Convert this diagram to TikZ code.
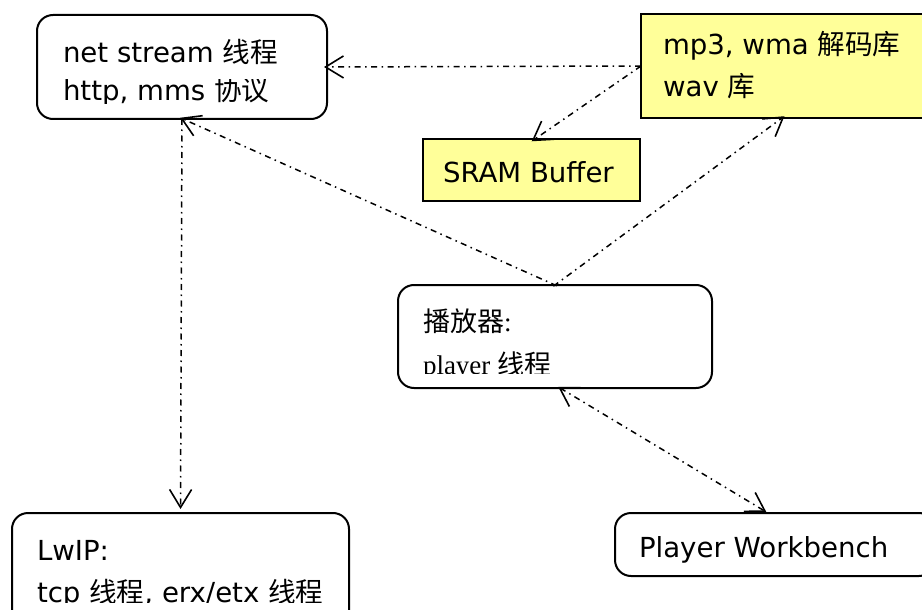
\documentclass[tikz,border=0pt]{standalone}
\usepackage{fontspec}
\setmainfont{DejaVu Sans}
\newfontfamily\cjk{Noto Sans CJK SC}
\newfontfamily\serifl{Liberation Serif}
\usetikzlibrary{arrows.meta}
\definecolor{paleyellow}{RGB}{255,255,153}
\tikzset{
  box/.style={draw=black, line width=2pt, inner sep=0pt, outer sep=0pt, anchor=north west},
  rbox/.style={box, rounded corners=16pt},
  ybox/.style={box, fill=paleyellow},
  txt/.style={anchor=base west, inner sep=0pt, outer sep=0pt, font=\fontsize{27.6}{32}\selectfont},
  stxt/.style={anchor=base west, inner sep=0pt, outer sep=0pt, font=\fontsize{27}{32}\serifl},
  tipb/.tip={Straight Barb[length=18pt,width=22pt,line width=1.6pt]},
  conn/.style={line width=1.5pt, dash pattern=on 6pt off 4.5pt on 1.5pt off 4.5pt, -tipb},
  conn2/.style={line width=1.5pt, dash pattern=on 6pt off 4.5pt on 1.5pt off 4.5pt, tipb-tipb}
}
\begin{document}
\begin{tikzpicture}[x=1pt,y=-1pt]
\useasboundingbox (0,0) rectangle (922,610);
\clip (0,0) rectangle (922,610);
\fill[white] (0,0) rectangle (922,610);

% boxes
\node[rbox, minimum width=290pt, minimum height=104pt] (ns) at (37,15) {};
\node[ybox, minimum width=300pt, minimum height=104pt] (mp) at (641,14) {};
\node[ybox, minimum width=217pt, minimum height=62pt] (sr) at (423,139) {};
\node[rbox, minimum width=314pt, minimum height=103pt] (pl) at (398,285) {};
\node[rbox, minimum width=320pt, minimum height=63pt] (wb) at (615,513) {};
\node[rbox, minimum width=337pt, minimum height=130pt] (lw) at (12,513) {};

% texts
\node[txt] (ns1) at (63,63) {net stream {\cjk 线程}};
\begin{scope}
\clip (37,80) rectangle (327,103.5);
\node[txt] (ns2) at (63,101) {http, mms {\cjk 协议}};
\end{scope}
\node[txt] (mp1) at (663,55) {mp3, wma {\cjk 解码库}};
\node[txt] (mp2) at (663,97) {wav {\cjk 库}};
\node[txt] (sr1) at (443,182) {SRAM Buffer};
\node[stxt] (pl1) at (423,331) {{\cjk 播放器}:};
\begin{scope}
\clip (398,340) rectangle (712,373);
\node[stxt] (pl2) at (423,374) {player {\cjk 线程}};
\end{scope}
\node[txt] (wb1) at (639,557) {Player Workbench};
\node[txt] (lw1) at (37,560) {LwIP:};
\begin{scope}
\clip (12,570) rectangle (349,602);
\node[txt] (lw2) at (37,602) {tcp {\cjk 线程}, erx/etx {\cjk 线程}};
\end{scope}

% connectors
\draw[conn, shorten >=-3pt] (mp.west) -- (ns.east);
\draw[conn, shorten >=-4pt] (mp.west) -- ([xshift=3.5pt]sr.north);
\draw[conn, shorten <=-2pt, shorten >=-3pt] (pl.north) -- ([xshift=141pt]mp.south west);
\draw[conn, shorten <=-2pt, shorten >=-3pt] (pl.north) -- ([xshift=1pt]ns.south);
\draw[conn, shorten >=4pt] (ns.south) -- (lw.north);
\draw[conn2, shorten <=-2pt, shorten >=2pt] ([xshift=5pt]pl.south) -- ([xshift=153pt]wb.north west);
\end{tikzpicture}
\end{document}
